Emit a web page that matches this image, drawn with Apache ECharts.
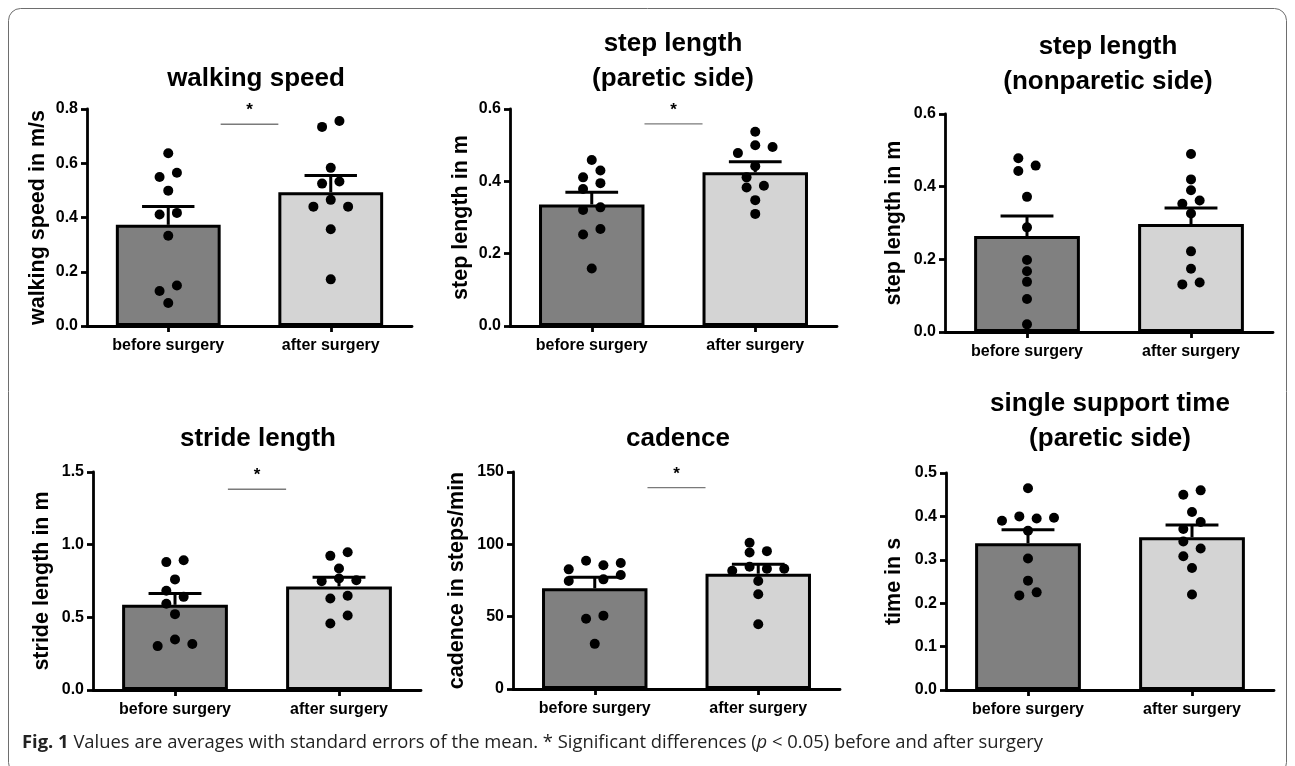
<!DOCTYPE html>
<html><head><meta charset="utf-8">
<script src="https://cdn.jsdelivr.net/npm/echarts/dist/echarts.min.js"></script>
<style>html,body{margin:0;padding:0;background:#fff;}#c{width:1295px;height:766px;}</style>
</head><body><div id="c"></div>
<script>
// ---------- DATA ----------
const categories = ['before surgery', 'after surgery'];
const titles = ['walking speed', 'step length\n(paretic side)', 'step length\n(nonparetic side)',
                'stride length', 'cadence', 'single support time\n(paretic side)'];
const yNames = ['walking speed in m/s', 'step length in m', 'step length in m',
                'stride length in m', 'cadence in steps/min', 'time in s'];
const yMax = [0.8, 0.6, 0.6, 1.5, 150, 0.5];
const yStep = [0.2, 0.2, 0.2, 0.5, 50, 0.1];
const yDecimals = [1, 1, 1, 1, 0, 1];

const walkMean = [0.373, 0.493], walkSem = [0.068, 0.062];
const stepPMean = [0.336, 0.425], stepPSem = [0.034, 0.029];
const stepNMean = [0.264, 0.297], stepNSem = [0.055, 0.044];
const strideMean = [0.586, 0.713], strideSem = [0.078, 0.062];
const cadMean = [69.6, 79.7], cadSem = [7.6, 6.5];
const sstMean = [0.338, 0.352], sstSem = [0.031, 0.028];

const walkBefore = [0.637, 0.549, 0.565, 0.499, 0.411, 0.417, 0.333, 0.129, 0.149, 0.085];
const walkAfter = [0.734, 0.756, 0.583, 0.525, 0.533, 0.440, 0.465, 0.440, 0.357, 0.172];
const stepPBefore = [0.459, 0.411, 0.430, 0.395, 0.379, 0.321, 0.328, 0.253, 0.268, 0.159];
const stepPAfter = [0.537, 0.500, 0.478, 0.495, 0.442, 0.411, 0.383, 0.388, 0.348, 0.310];
const stepNBefore = [0.478, 0.443, 0.458, 0.372, 0.288, 0.198, 0.167, 0.138, 0.091, 0.021];
const stepNAfter = [0.490, 0.420, 0.390, 0.353, 0.362, 0.326, 0.222, 0.174, 0.131, 0.136];
const strideBefore = [0.880, 0.893, 0.761, 0.683, 0.641, 0.593, 0.522, 0.302, 0.348, 0.316];
const strideAfter = [0.923, 0.948, 0.836, 0.749, 0.767, 0.756, 0.630, 0.648, 0.513, 0.458];
const cadBefore = [88.7, 82.7, 85.5, 87.1, 74.7, 75.8, 78.8, 48.5, 50.7, 31.2];
const cadAfter = [101.1, 94.4, 95.3, 84.5, 81.8, 83.1, 83.1, 74.7, 65.5, 44.8];
const sstBefore = [0.465, 0.390, 0.400, 0.395, 0.397, 0.367, 0.303, 0.252, 0.218, 0.225];
const sstAfter = [0.450, 0.460, 0.410, 0.387, 0.371, 0.342, 0.326, 0.308, 0.281, 0.220];

// significance bracket levels (null = not significant)
const sigLevel = [0.744, 0.559, null, 1.381, 139.2, null];

// ---------- LAYOUT / STYLE ----------
// swarm slot per point (in half-spacing units)
const walkBeforeSlot = [0, -1, 1, 0, -1, 1, 0, -1, 1, 0];
const walkAfterSlot = [-1, 1, 0, -1, 1, -2, 0, 2, 0, 0];
const stepPBeforeSlot = [0, -1, 1, 1, -1, -1, 1, -1, 1, 0];
const stepPAfterSlot = [0, 0, -2, 2, 0, -1, -1, 1, 0, 0];
const stepNBeforeSlot = [-1, -1, 1, 0, 0, 0, 0, 0, 0, 0];
const stepNAfterSlot = [0, 0, 0, -1, 1, 0, 0, 0, -1, 1];
const strideBeforeSlot = [-1, 1, 0, -1, 1, -1, 0, -2, 0, 2];
const strideAfterSlot = [-1, 1, 0, -2, 0, 2, -1, 1, 1, -1];
const cadBeforeSlot = [-1, -3, 1, 3, -3, 1, 3, -1, 1, 0];
const cadAfterSlot = [-1, -1, 1, -1, -3, 1, 3, 0, 0, 0];
const sstBeforeSlot = [0, -3, -1, 1, 3, 0, 0, 0, -1, 1];
const sstAfterSlot = [-1, 1, 0, 1, -1, -1, 1, -1, 0, 0];

const means = [walkMean, stepPMean, stepNMean, strideMean, cadMean, sstMean];
const sems = [walkSem, stepPSem, stepNSem, strideSem, cadSem, sstSem];
const befores = [walkBefore, stepPBefore, stepNBefore, strideBefore, cadBefore, sstBefore];
const afters = [walkAfter, stepPAfter, stepNAfter, strideAfter, cadAfter, sstAfter];
const beforeSlots = [walkBeforeSlot, stepPBeforeSlot, stepNBeforeSlot, strideBeforeSlot, cadBeforeSlot, sstBeforeSlot];
const afterSlots = [walkAfterSlot, stepPAfterSlot, stepNAfterSlot, strideAfterSlot, cadAfterSlot, sstAfterSlot];

const grids = [
  {left: 87, top: 109, width: 325, height: 217},
  {left: 510, top: 109, width: 327, height: 217},
  {left: 945, top: 114, width: 328, height: 218},
  {left: 93, top: 472, width: 328, height: 218},
  {left: 513, top: 472, width: 327, height: 217},
  {left: 946, top: 473, width: 328, height: 217}
];
const nameGaps = [38, 38, 40, 40, 45, 41];
const titlePos = [[256, 79], [673, 61.5], [1108, 64.5], [258, 439], [678, 439], [1110, 421.5]];

const FONT = '"Liberation Sans", Arial, Helvetica, sans-serif';
const BAR_FRAC = 0.645;
const SLOT_PX = 8.67;
const barColors = ['#808080', '#d4d4d4'];
const LW = 2.8;

const option = {
  animation: false,
  backgroundColor: '#fff',
  grid: grids.map(g => Object.assign({containLabel: false, outerBoundsMode: 'none'}, g)),
  xAxis: grids.map((g, i) => ({
    gridIndex: i, type: 'category', data: categories, boundaryGap: true,
    axisLine: {show: true, lineStyle: {color: '#000', width: LW}},
    axisTick: {show: true, alignWithLabel: true, length: 6, lineStyle: {color: '#000', width: LW}},
    axisLabel: {color: '#000', fontFamily: FONT, fontWeight: 'bold', fontSize: 16, margin: 12, interval: 0},
    splitLine: {show: false}
  })),
  yAxis: grids.map((g, i) => ({
    gridIndex: i, type: 'value', min: 0, max: yMax[i], interval: yStep[i],
    name: yNames[i], nameLocation: 'middle', nameGap: nameGaps[i],
    nameTextStyle: {color: '#000', fontFamily: FONT, fontWeight: 'bold', fontSize: 21.5},
    axisLine: {show: true, lineStyle: {color: '#000', width: LW}},
    axisTick: {show: true, length: 6, lineStyle: {color: '#000', width: LW}},
    axisLabel: {color: '#000', fontFamily: FONT, fontWeight: 'bold', fontSize: 16, margin: 9,
      formatter: v => v.toFixed(yDecimals[i])},
    splitLine: {show: false}
  })),
  series: [],
  graphic: []
};

function renderErr(params, api) {
  const c = api.value(0), m = api.value(1), s = api.value(2);
  const base = api.coord([c, m]), top = api.coord([c, m + s]);
  const half = api.size([1, 0])[0] * BAR_FRAC * 0.25;
  return {type: 'group', children: [
    {type: 'line', shape: {x1: base[0], y1: base[1], x2: top[0], y2: top[1]}, style: {stroke: '#000', lineWidth: 3}},
    {type: 'line', shape: {x1: top[0] - half, y1: top[1], x2: top[0] + half, y2: top[1]}, style: {stroke: '#000', lineWidth: 3}}
  ]};
}
function renderSig(params, api) {
  const lvl = api.value(1);
  const p0 = api.coord([0, lvl]), p1 = api.coord([1, lvl]);
  const hb = api.size([1, 0])[0] * BAR_FRAC / 2;
  const x1 = p0[0] + hb, x2 = p1[0] - hb;
  return {type: 'group', children: [
    {type: 'line', shape: {x1: x1, y1: p0[1], x2: x2, y2: p0[1]}, style: {stroke: '#7a7a7a', lineWidth: 1.4}},
    {type: 'text', x: (x1 + x2) / 2, y: p0[1] - 5, style: {text: '*', fill: '#000', font: 'bold 17px ' + FONT, textAlign: 'center', textVerticalAlign: 'bottom'}}
  ]};
}

for (let i = 0; i < 6; i++) {
  option.series.push({
    type: 'bar', xAxisIndex: i, yAxisIndex: i, barWidth: (BAR_FRAC * 100) + '%', z: 2,
    data: means[i].map((v, k) => ({value: v, itemStyle: {color: barColors[k], borderColor: '#000', borderWidth: 3}}))
  });
  option.series.push({
    type: 'custom', xAxisIndex: i, yAxisIndex: i, z: 3, renderItem: renderErr,
    encode: {x: 0, y: 1},
    data: means[i].map((v, k) => [k, v, sems[i][k]])
  });
  const pts = [];
  befores[i].forEach((v, k) => pts.push({value: [0, v], symbolOffset: [beforeSlots[i][k] * SLOT_PX, 0]}));
  afters[i].forEach((v, k) => pts.push({value: [1, v], symbolOffset: [afterSlots[i][k] * SLOT_PX, 0]}));
  option.series.push({
    type: 'scatter', xAxisIndex: i, yAxisIndex: i, z: 4, symbol: 'circle', symbolSize: 10,
    itemStyle: {color: '#000', opacity: 1}, data: pts
  });
  if (sigLevel[i] !== null) {
    option.series.push({
      type: 'custom', xAxisIndex: i, yAxisIndex: i, z: 3, renderItem: renderSig, clip: false,
      encode: {x: 0, y: 1}, data: [[0, sigLevel[i]]]
    });
  }
  option.graphic.push({
    type: 'text', x: titlePos[i][0], y: titlePos[i][1], z: 10,
    style: {text: titles[i], fill: '#000', font: 'bold 26px ' + FONT, lineHeight: 35,
      textAlign: 'center', textVerticalAlign: 'middle'}
  });
}

option.graphic.push({
  type: 'rect', z: 0, shape: {x: 8.5, y: 8.5, width: 1278, height: 766, r: 12},
  style: {fill: 'none', stroke: '#6e6e6e', lineWidth: 1}
});
option.graphic.push({
  type: 'text', x: 22, y: 743, z: 10,
  style: {
    text: '{b|Fig. 1} Values are averages with standard errors of the mean. * Significant differences ({i|p} < 0.05) before and after surgery',
    fill: '#222', fontFamily: '"Open Sans", sans-serif', fontSize: 18.4, textVerticalAlign: 'middle',
    rich: {
      b: {fontWeight: 'bold', fontFamily: '"Open Sans", sans-serif', fontSize: 18.4, fill: '#222'},
      i: {fontStyle: 'italic', fontFamily: '"Open Sans", sans-serif', fontSize: 18.4, fill: '#222'}
    }
  }
});

const chart = echarts.init(document.getElementById('c'), null, {renderer: 'canvas'});
chart.setOption(option);
</script>
</body></html>
